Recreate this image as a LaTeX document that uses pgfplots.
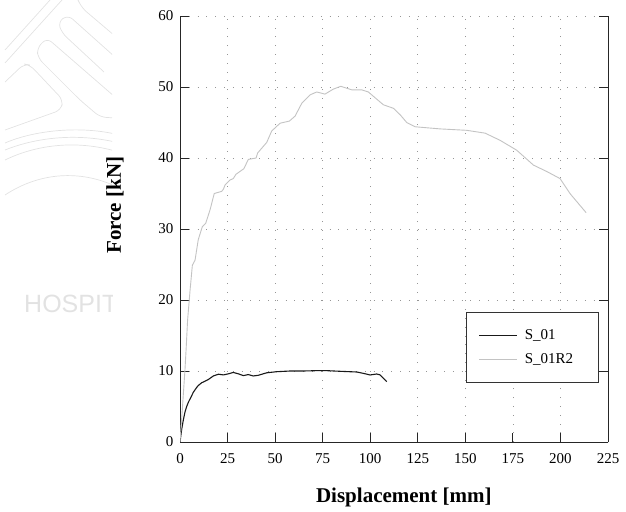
\documentclass[border=0pt]{standalone}
\usepackage{fontspec}
\setmainfont{Liberation Serif}
\newfontfamily\wmfont{Liberation Sans}
\usepackage{pgfplots}
\pgfplotsset{compat=1.18}
\definecolor{curvegray}{RGB}{195,195,195}
\definecolor{gridgray}{RGB}{150,150,150}
\definecolor{wmgray}{RGB}{226,226,226}
\begin{document}
\begin{tikzpicture}
\useasboundingbox (0pt,0pt) rectangle (626pt,-511pt);
% faint background logo
\begin{scope}
\clip (0pt,0pt) rectangle (112pt,-330pt);
\begin{scope}[draw=wmgray, line width=0.7pt, rounded corners=6pt]
\draw (5pt,-50pt) -- (50pt,0pt);
\draw (5pt,-63pt) -- (62pt,0pt);
\draw (78pt,0pt) -- (82pt,-8pt) -- (115pt,-36pt);
\draw (115pt,-57pt) -- (68pt,-15pt) -- (58pt,-22pt) -- (62pt,-33pt) -- (104pt,-72pt);
\draw (115pt,-97pt) -- (47pt,-38pt) -- (37pt,-48pt) -- (38pt,-58pt) -- (80pt,-100pt) -- (100pt,-117pt) -- (115pt,-118pt);
\draw (5pt,-82pt) -- (24pt,-64pt) -- (30pt,-65pt) -- (63pt,-100pt) -- (61pt,-110pt) -- (5pt,-130pt);
\draw (5pt,-143pt) .. controls (35pt,-130pt) and (80pt,-126pt) .. (115pt,-134pt);
\draw (5pt,-150pt) .. controls (40pt,-136pt) and (80pt,-134pt) .. (115pt,-142pt);
\draw (5pt,-160pt) .. controls (40pt,-143pt) and (80pt,-141pt) .. (115pt,-151pt);
\draw (5pt,-195pt) .. controls (40pt,-172pt) and (80pt,-170pt) .. (115pt,-186pt);
\end{scope}
\node[text=wmgray, font=\wmfont\fontsize{25}{30}\selectfont, anchor=base west, inner sep=0pt] at (24pt,-312pt) {HOSPIT};
\end{scope}
\begin{axis}[
  at={(180pt,-442pt)}, anchor=south west,
  scale only axis, width=428pt, height=426pt,
  xmin=0, xmax=225, ymin=0, ymax=60,
  xtick={0,25,...,225}, ytick={0,10,...,60},
  axis x line=bottom, axis y line=box,
  axis line style={-, line width=1pt, black!85},
  tick align=inside, major tick length=9pt,
  tick style={black!85, line width=1pt},
  grid=major,
  grid style={gridgray, line width=0.6pt, dash pattern=on 0.8pt off 8pt},
  tick label style={font=\fontsize{15}{18}\selectfont},
  xticklabel style={yshift=-8pt},
  yticklabel style={xshift=-3pt},
  /pgf/number format/assume math mode=true,
  xlabel={Displacement [mm]}, ylabel={Force [kN]},
  label style={font=\bfseries\fontsize{21}{25}\selectfont},
  xlabel style={at={(axis description cs:0.523,-0.131)}, anchor=center},
  ylabel style={at={(axis description cs:-0.152,0.556)}, anchor=center},
  legend style={at={(axis description cs:0.978,0.139)}, anchor=south east,
    draw=black!80, line width=0.8pt, font=\fontsize{15}{18}\selectfont,
    inner xsep=12pt, inner ysep=15pt, row sep=9pt,
    /tikz/every odd column/.append style={column sep=5pt}},
  legend cell align=left,
  legend image code/.code={\draw[#1] (0pt,0pt) -- (38pt,0pt);},
]
\addplot[black!90, line width=1.1pt] coordinates {
(0,0) (0.9,1.8) (1.75,3.1) (2.6,4.2) (3.5,5.0) (4.4,5.6) (6.1,6.5) (7.0,7.0)
(8.8,7.7) (9.6,7.95) (11.4,8.35) (12.3,8.45) (14.9,8.8) (17.5,9.3) (20.2,9.55)
(22.8,9.45) (25.4,9.6) (28.0,9.8) (30.7,9.6) (33.3,9.35) (35.9,9.5) (38.5,9.3)
(41.2,9.4) (45.6,9.75) (50.8,9.9) (57.8,10.0) (64.8,10.0) (71.9,10.05) (77.1,10.05)
(84.1,9.96) (92.9,9.86) (96.4,9.67) (99.9,9.44) (103.4,9.58) (105.2,9.45) (108.7,8.5)
};
\addlegendentry{S\_01\hspace*{11pt}}
\addplot[curvegray, line width=0.9pt] coordinates {
(0,0) (1.2,4.5) (2.6,10.1) (3.2,13) (4.0,17.2) (5.3,21.4) (6.5,24.9) (7.9,25.6)
(9.6,28.5) (11.7,30.3) (13.5,30.8) (15.8,32.7) (18.0,35.0) (19.3,35.1) (21.9,35.3)
(22.8,35.6) (23.7,36.2) (26.3,36.9) (28.0,37.1) (29.4,37.7) (33.6,38.5) (35.9,39.8)
(40.0,40.0) (40.8,40.7) (45.6,42.2) (48.2,43.8) (52.6,44.9) (57.5,45.2) (60.5,45.9)
(64.0,47.7) (68.4,48.9) (71.9,49.3) (76.2,49.0) (80.6,49.7) (84.5,50.1) (90.3,49.6)
(95.5,49.6) (99.0,49.3) (102.5,48.5) (106.9,47.5) (112.2,47.0) (115.7,46.1) (119.2,45.0)
(123.6,44.4) (136.7,44.1) (150.7,43.9) (160.4,43.5) (168.2,42.5) (177.0,41.1)
(185.8,39.0) (192.8,38.1) (199.8,37.1) (205.0,35.0) (213.5,32.3)
};
\addlegendentry{S\_01R2\hspace*{11pt}}
\end{axis}
\end{tikzpicture}
\end{document}
